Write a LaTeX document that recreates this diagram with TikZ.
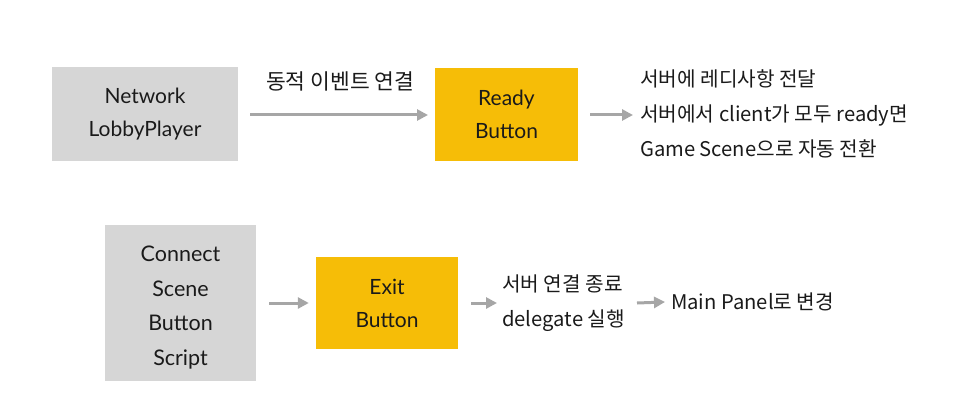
\documentclass[tikz,border=0pt]{standalone}
\usepackage{fontspec}
\setmainfont{Lato}
\newfontfamily\krfont{Noto Sans CJK KR}
\usetikzlibrary{arrows.meta}
\definecolor{boxgray}{HTML}{D6D6D6}
\definecolor{boxyellow}{HTML}{F6BD07}
\definecolor{arrgray}{HTML}{A6A6A6}
\definecolor{txt}{HTML}{1A1A1A}
\tikzset{
  graybox/.style={fill=boxgray, draw=none, align=center, inner sep=0pt, text=txt, font=\fontsize{21}{33}\selectfont},
  yellowbox/.style={fill=boxyellow, draw=none, align=center, inner sep=0pt, text=txt, font=\fontsize{21}{33}\selectfont},
  conn/.style={draw=arrgray, line width=3pt, -{Triangle[length=11pt,width=11pt]}},
  note/.style={align=left, anchor=west, inner sep=0pt, text=txt, font=\krfont\fontsize{20.2}{35}\selectfont}
}
\begin{document}
\begin{tikzpicture}[x=1pt,y=-1pt]
\useasboundingbox (0,0) rectangle (953,417);
\node[graybox, minimum width=186pt, minimum height=94pt] (nlp) at (145,114) {Network\\LobbyPlayer};
\node[yellowbox, minimum width=143pt, minimum height=93pt] (ready) at (506.5,114.5) {Ready\\Button};
\node[note, font=\krfont\fontsize{21.5}{35}\selectfont] (lbl) at (266,81) {동적 이벤트 연결};
\coordinate (a1s) at (250,115);
\coordinate (a1e) at (428,115);
\draw[conn] (a1s) -- (a1e);
\node[note] (txt1) at (640,114) {서버에 레디사항 전달\\서버에서 client가 모두 ready면\\Game Scene으로 자동 전환};
\coordinate (a2s) at (590,115);
\draw[conn] (a2s) -- ([xshift=-7pt]txt1.west |- a2s);
\node[graybox, minimum width=151pt, minimum height=156pt, font=\fontsize{21.5}{34.5}\selectfont] (csbs) at (180.5,303) {\rule{0pt}{25pt}Connect\\Scene\\Button\\Script};
\node[yellowbox, minimum width=142pt, minimum height=92pt] (exit) at (387,303) {Exit\\Button};
\draw[conn] ([xshift=13pt]csbs.east) -- ([xshift=-7pt]exit.west);
\node[note] (txt2) at (502,303) {서버 연결 종료\\delegate 실행};
\draw[conn] ([xshift=13pt]exit.east) -- ([xshift=-5pt]txt2.west);
\node[note] (txt3) at (671,302) {Main Panel로 변경};
\coordinate (a5s) at (637,303);
\draw[conn] (a5s) -- ([xshift=-6pt]txt3.west);
\end{tikzpicture}
\end{document}
